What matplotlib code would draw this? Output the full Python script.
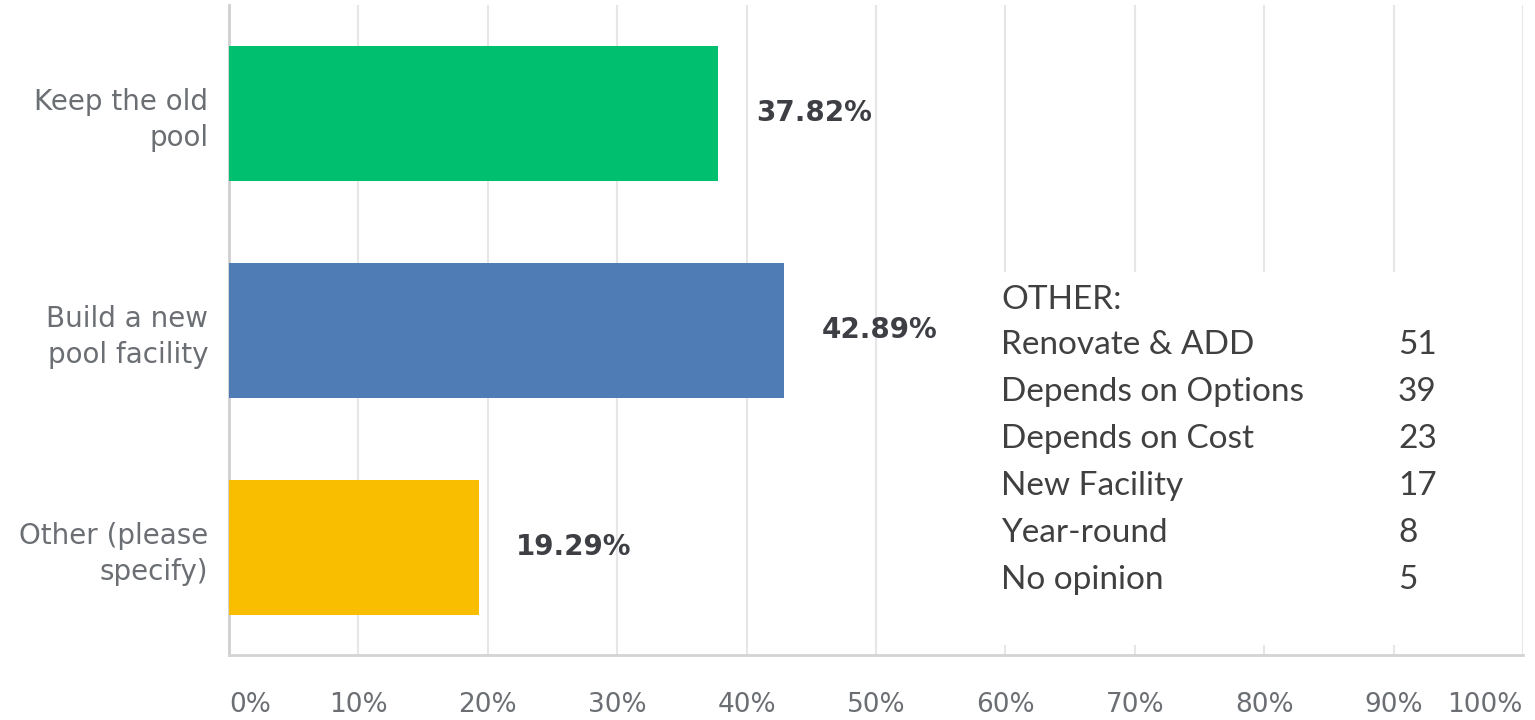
import matplotlib
matplotlib.use("Agg")
import matplotlib.pyplot as plt
from matplotlib.patches import Rectangle

categories = ["Keep the old\npool", "Build a new\npool facility", "Other (please\nspecify)"]
values = [37.82, 42.89, 19.29]
colors = ["#00bf6f", "#507cb6", "#f9be00"]
ticks = [0, 10, 20, 30, 40, 50, 60, 70, 80, 90, 100]
tick_labels = [f"{t}%" for t in ticks]

other_title = "OTHER:"
other_items = ["Renovate & ADD", "Depends on Options", "Depends on Cost",
               "New Facility", "Year-round", "No opinion"]
other_counts = [51, 39, 23, 17, 8, 5]

W, H = 1535, 720
fig = plt.figure(figsize=(W / 100, H / 100), dpi=100)
ax = fig.add_axes([229 / W, 1 - 655 / H, (1523 - 229) / W, (655 - 5) / H])

ypos = list(range(len(categories)))
ax.barh(ypos, values, height=0.622, color=colors, zorder=3)
ax.set_xlim(0, 100)
ax.set_ylim(2.497, -0.498)

ax.set_xticks(ticks)
ax.set_xticklabels(tick_labels)
ax.tick_params(axis="x", length=0, pad=27, labelsize=19, labelcolor="#6b6e73")
xl = ax.get_xticklabels()
xl[0].set_ha("left")
xl[-1].set_ha("right")

ax.set_yticks(ypos)
ax.set_yticklabels(categories, fontsize=20, color="#6b6e73", linespacing=1.38)
ax.tick_params(axis="y", length=0, pad=15)

ax.grid(axis="x", color="#e6e6e6", linewidth=1.5, zorder=0)
ax.grid(axis="y", visible=False)
for s in ["top", "right"]:
    ax.spines[s].set_visible(False)
ax.spines["left"].set_color("#cfcfcf")
ax.spines["left"].set_linewidth(2)
ax.spines["bottom"].set_color("#d4d4d4")
ax.spines["bottom"].set_linewidth(2)

for y, v in zip(ypos, values):
    ax.annotate(f"{v:.2f}%", xy=(v, y), xytext=(27, 0), textcoords="offset points",
                ha="left", va="center", fontsize=20, fontweight="bold", color="#3d3f44",
                zorder=5)

# white box for the "OTHER" breakdown
fig.patches.append(Rectangle((990 / W, 1 - 645 / H), (1520 - 990) / W, (645 - 272) / H,
                             transform=fig.transFigure, facecolor="white",
                             edgecolor="none", zorder=10))

font_box = "Lato"
fs_box = 24
fig.text(1001 / W, 1 - 300 / H, other_title, fontsize=fs_box, color="#404040",
         family=font_box, va="center", ha="left", zorder=11)
row_y = 345
for item, cnt in zip(other_items, other_counts):
    fig.text(1001 / W, 1 - row_y / H, item, fontsize=fs_box, color="#404040",
             family=font_box, va="center", ha="left", zorder=11)
    fig.text(1398 / W, 1 - row_y / H, str(cnt), fontsize=fs_box, color="#404040",
             family=font_box, va="center", ha="left", zorder=11)
    row_y += 47

fig.savefig("out.png", dpi=100, facecolor="white")
